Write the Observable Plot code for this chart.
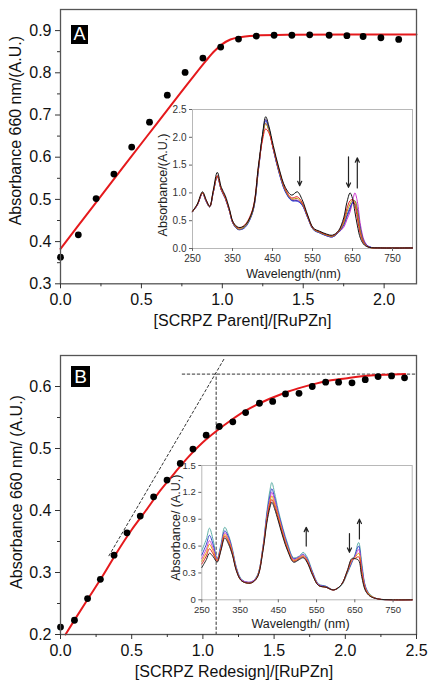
<!DOCTYPE html>
<html><head><meta charset="utf-8">
<script src="https://cdn.jsdelivr.net/npm/d3@7"></script>
<script src="https://cdn.jsdelivr.net/npm/@observablehq/plot@0.6"></script>
<style>
body{margin:0;background:#fff;}
#wrap{position:relative;width:436px;height:689px;overflow:hidden;}
.tag{position:absolute;background:#000;color:#fff;font-family:"Liberation Sans",Arial,sans-serif;text-align:center;}
</style></head><body><div id="wrap"></div><script>
// ---------- Panel A : main titration ----------
const xA = [0,0.11,0.22,0.33,0.44,0.55,0.66,0.77,0.88,0.99,1.10,1.21,1.32,1.43,1.54,1.66,1.77,1.87,1.98,2.09];
const yA = [0.363,0.416,0.502,0.560,0.624,0.683,0.747,0.801,0.835,0.861,0.880,0.887,0.889,0.889,0.890,0.889,0.888,0.886,0.883,0.879];
const fitAx = [0,0.2,0.4,0.6,0.8,0.9,0.95,1.0,1.05,1.1,1.2,1.4,1.8,2.2];
const fitAy = [0.383,0.483,0.583,0.682,0.781,0.829,0.851,0.868,0.879,0.884,0.888,0.890,0.891,0.891];
const xTicksA = [0,0.5,1,1.5,2];
const xMinorA = [0.25,0.75,1.25,1.75];
const yTicksA = [0.3,0.4,0.5,0.6,0.7,0.8,0.9];
const yMinorA = [0.35,0.45,0.55,0.65,0.75,0.85];
const xLabelA = "[SCRPZ Parent]/[RuPZn]";
const yLabelA = "Absorbance 660 nm/(A.U.)";

// ---------- Panel A : inset spectra ----------
const wlA = [250,262,275,284,293,302,312,322,332,342,352,365,380,400,415,425,433,441,452,466,482,498,512,524,538,552,568,585,600,615,628,636,644,650,656,662,670,680,692,720,800];
const specA1 = [0.67,0.80,1.02,0.88,0.76,1.05,1.37,1.10,0.95,0.72,0.47,0.38,0.41,0.68,1.50,2.05,2.37,2.20,1.85,1.45,1.10,0.96,1.02,0.88,0.60,0.37,0.31,0.26,0.24,0.32,0.55,0.83,1.00,0.90,0.66,0.42,0.18,0.06,0.02,0.01,0.01];
const specA2 = [0.67,0.79,1.00,0.87,0.76,1.03,1.31,1.07,0.92,0.70,0.46,0.37,0.42,0.70,1.48,1.95,2.15,2.08,1.80,1.42,1.07,0.91,0.93,0.83,0.58,0.36,0.30,0.25,0.23,0.31,0.50,0.72,0.86,0.88,0.78,0.55,0.25,0.08,0.02,0.01,0.01];
const specA3 = [0.66,0.79,1.00,0.86,0.75,1.02,1.30,1.06,0.91,0.69,0.45,0.35,0.39,0.66,1.45,2.00,2.25,2.12,1.80,1.40,1.05,0.89,0.90,0.81,0.57,0.35,0.29,0.24,0.22,0.30,0.46,0.66,0.80,0.87,0.85,0.65,0.30,0.09,0.02,0.01,0.01];
const specA4 = [0.66,0.78,0.99,0.85,0.75,1.01,1.29,1.05,0.90,0.68,0.44,0.34,0.37,0.64,1.42,2.02,2.30,2.15,1.78,1.37,1.02,0.86,0.85,0.78,0.55,0.34,0.28,0.23,0.21,0.29,0.43,0.60,0.74,0.82,0.80,0.64,0.32,0.10,0.03,0.01,0.01];
const specA5 = [0.66,0.78,0.99,0.85,0.75,1.01,1.30,1.05,0.90,0.68,0.44,0.34,0.38,0.65,1.43,2.03,2.32,2.16,1.79,1.38,1.03,0.87,0.86,0.79,0.56,0.34,0.28,0.23,0.21,0.29,0.42,0.57,0.71,0.83,0.86,0.72,0.36,0.11,0.03,0.01,0.01];
const specA6 = [0.66,0.78,0.99,0.85,0.75,1.01,1.30,1.05,0.90,0.68,0.44,0.35,0.39,0.66,1.44,2.00,2.25,2.12,1.79,1.39,1.04,0.88,0.87,0.80,0.56,0.35,0.29,0.23,0.21,0.29,0.38,0.52,0.66,0.84,1.00,0.85,0.42,0.13,0.03,0.01,0.01];
const spectraA = [specA6, specA5, specA4, specA3, specA2, specA1];
const colorsA = ["#cc33cc","#5a3a9a","#2a3ad8","#b0a000","#e82020","#111111"];
const arrowAx = [518,640,662];
const arrowAy1 = [1.65,1.65,1.09];
const arrowAy2 = [1.13,1.10,1.63];
const insetXTicks = [250,350,450,550,650,750];
const insetYTicksA = [0,0.5,1,1.5,2,2.5];
const insetXLabelA = "Wavelength/(nm)";
const insetYLabelA = "Absorbance/(A.U.)";

// ---------- Panel B : main titration ----------
const xB = [0,0.098,0.19,0.28,0.376,0.467,0.56,0.654,0.748,0.841,0.93,1.023,1.115,1.21,1.30,1.397,1.49,1.58,1.675,1.768,1.862,1.953,2.047,2.14,2.23,2.325,2.416];
const yB = [0.212,0.223,0.258,0.289,0.328,0.364,0.391,0.422,0.449,0.476,0.499,0.5215,0.5355,0.543,0.558,0.573,0.576,0.588,0.589,0.600,0.607,0.607,0.606,0.611,0.616,0.617,0.614];
const fitBx = [0.035,0.1,0.2,0.3,0.4,0.5,0.6,0.7,0.8,0.9,1.0,1.1,1.2,1.3,1.4,1.5,1.6,1.7,1.8,1.9,2.0,2.1,2.2,2.3,2.42];
const fitBy = [0.2,0.224,0.26,0.296,0.334,0.369,0.400,0.432,0.460,0.487,0.510,0.529,0.546,0.561,0.573,0.583,0.592,0.599,0.605,0.610,0.613,0.616,0.618,0.619,0.620];
const tangentX = [0.34,1.15];
const tangentY = [0.327,0.645];
const plateauX = [0.855,2.5];
const plateauY = [0.62,0.62];
const equivX = [1.093,1.093];
const equivY = [0.2,0.62];
const xTicksB = [0,0.5,1,1.5,2,2.5];
const xMinorB = [0.25,0.75,1.25,1.75,2.25];
const yTicksB = [0.2,0.3,0.4,0.5,0.6];
const yMinorB = [0.25,0.35,0.45,0.55];
const xLabelB = "[SCRPZ Redesign]/[RuPZn]";
const yLabelB = "Absorbance 660 nm/ (A.U.)";

// ---------- Panel B : inset spectra ----------
const wlB = [250,262,270,280,290,300,310,320,330,340,352,365,380,395,410,420,428,433,440,450,462,475,490,505,515,525,540,555,575,595,615,630,642,650,660,668,678,690,710,750,800];
const specB1 = [0.36,0.45,0.52,0.48,0.42,0.55,0.69,0.62,0.50,0.33,0.22,0.19,0.19,0.25,0.55,0.86,1.03,1.09,1.02,0.88,0.70,0.54,0.42,0.45,0.47,0.42,0.27,0.16,0.14,0.11,0.17,0.32,0.46,0.46,0.44,0.26,0.10,0.04,0.01,0,0];
const specB2 = [0.40,0.49,0.57,0.51,0.43,0.56,0.71,0.64,0.51,0.33,0.22,0.19,0.19,0.25,0.56,0.88,1.06,1.12,1.05,0.90,0.72,0.55,0.43,0.46,0.48,0.43,0.28,0.16,0.14,0.11,0.17,0.32,0.45,0.46,0.48,0.29,0.11,0.04,0.01,0,0];
const specB3 = [0.43,0.53,0.62,0.54,0.44,0.57,0.73,0.66,0.53,0.34,0.22,0.19,0.19,0.26,0.57,0.90,1.09,1.16,1.08,0.93,0.74,0.57,0.44,0.47,0.49,0.44,0.28,0.16,0.14,0.11,0.17,0.31,0.44,0.47,0.52,0.32,0.12,0.05,0.01,0,0];
const specB4 = [0.46,0.57,0.66,0.57,0.45,0.58,0.75,0.68,0.54,0.35,0.23,0.20,0.20,0.26,0.58,0.92,1.12,1.20,1.12,0.95,0.76,0.58,0.45,0.48,0.50,0.45,0.29,0.17,0.14,0.11,0.17,0.31,0.43,0.48,0.56,0.35,0.13,0.05,0.01,0,0];
const specB5 = [0.50,0.62,0.72,0.61,0.45,0.60,0.77,0.70,0.55,0.36,0.23,0.20,0.20,0.27,0.59,0.95,1.16,1.24,1.15,0.97,0.78,0.60,0.46,0.48,0.51,0.46,0.30,0.17,0.15,0.11,0.17,0.30,0.42,0.49,0.60,0.38,0.14,0.05,0.01,0,0];
const specB6 = [0.55,0.68,0.80,0.66,0.46,0.62,0.81,0.72,0.57,0.37,0.24,0.20,0.20,0.27,0.60,0.98,1.22,1.31,1.20,1.00,0.80,0.62,0.47,0.49,0.53,0.48,0.31,0.18,0.15,0.11,0.16,0.29,0.41,0.50,0.64,0.42,0.15,0.06,0.01,0,0];
const spectraB = [specB6, specB5, specB4, specB3, specB2, specB1];
const colorsB = ["#5fb0a8","#3344cc","#cc44cc","#ee9900","#dd2222","#222222"];
const arrowBx = [523,636,662];
const arrowBy1 = [0.60,0.74,0.68];
const arrowBy2 = [0.81,0.53,0.90];
const insetYTicksB = [0,0.3,0.6,0.9,1.2,1.5];
const insetXLabelB = "Wavelength/ (nm)";
const insetYLabelB = "Absorbance/ (A.U.)";

// ---------- drawing ----------
const FONT = "'Liberation Sans', Arial, Helvetica, sans-serif";
const wrap = document.getElementById("wrap");
const f1 = d3.format(".1f");
function place(svg, left, top) {
  svg.style.position = "absolute";
  svg.style.left = left + "px";
  svg.style.top = top + "px";
  wrap.appendChild(svg);
}
function idx(a) { return d3.range(a.length); }
const mid = {textAnchor: "middle", lineAnchor: "middle"};

function mainPlot(o) {
  return Plot.plot({
    width: 436, height: o.height,
    marginLeft: 60, marginRight: 20, marginTop: o.mt, marginBottom: o.mb,
    style: {background: "transparent", fontFamily: FONT, color: "#111", overflow: "visible"},
    x: {domain: o.xd, label: null},
    y: {domain: o.yd, label: null},
    marks: [
      ...(o.extra || []),
      Plot.line(idx(o.fx), {x: o.fx, y: o.fy, stroke: "#e5191c", strokeWidth: 2, curve: "monotone-x"}),
      Plot.dot(idx(o.px), {x: o.px, y: o.py, r: 3.4, fill: "#000", stroke: "none"}),
      Plot.frame({stroke: "#555", strokeWidth: 1.3}),
      Plot.axisX({ticks: o.xt, tickSize: 5, tickPadding: 5, tickFormat: f1, fontSize: 16, label: null, stroke: "#333"}),
      Plot.axisX({ticks: o.xm, tickSize: 3, tickFormat: () => "", label: null, stroke: "#333"}),
      Plot.axisY({ticks: o.yt, tickSize: 5, tickPadding: 4, tickFormat: f1, fontSize: 16, label: null, stroke: "#333"}),
      Plot.axisY({ticks: o.ym, tickSize: 3, tickFormat: () => "", label: null, stroke: "#333"}),
      Plot.text([o.xl], {frameAnchor: "bottom", ...mid, text: d => d, dy: 37, dx: o.xldx, fontSize: 16, fill: "#111"}),
      Plot.text([o.yl], {frameAnchor: "left", ...mid, text: d => d, rotate: -90, dx: o.yldx, dy: o.yldy, fontSize: 16, fill: "#111"})
    ]
  });
}

function insetPlot(o) {
  const lines = o.spectra.map((s, k) =>
    Plot.line(idx(o.wl), {x: o.wl, y: s, stroke: o.colors[k], strokeWidth: 1, curve: "catmull-rom"}));
  return Plot.plot({
    width: o.w, height: o.h,
    marginLeft: o.ml, marginRight: o.mr, marginTop: o.mt, marginBottom: o.mb,
    style: {background: "transparent", fontFamily: FONT, color: "#333", overflow: "visible"},
    x: {domain: [250, 800], label: null},
    y: {domain: o.yd, label: null},
    marks: [
      Plot.frame({stroke: "#b8b8b8", strokeWidth: 1}),
      ...lines,
      Plot.arrow(idx(o.ax), {x1: o.ax, y1: o.ay1, x2: o.ax, y2: o.ay2, stroke: "#222", strokeWidth: 1.2, headLength: 6, headAngle: 50}),
      Plot.axisX({ticks: insetXTicks, tickSize: 3, tickPadding: 3, fontSize: o.fs, label: null, stroke: "#666"}),
      Plot.axisY({ticks: o.yt, tickSize: 3, tickPadding: 3, tickFormat: o.yf, fontSize: o.fs, label: null, stroke: "#666"}),
      Plot.text([o.xl], {frameAnchor: "bottom", ...mid, text: d => d, dy: o.xldy, dx: o.xldx, fontSize: 12.5, fill: "#222"}),
      Plot.text([o.yl], {frameAnchor: "left", ...mid, text: d => d, rotate: -90, dx: o.yldx, dy: o.yldy, fontSize: 12.5, fill: "#222"})
    ]
  });
}

const dash = {stroke: "#333", strokeWidth: 1, strokeDasharray: "2.5,2.5"};

place(mainPlot({
  height: 330, mt: 9, mb: 46.7, xd: [0, 2.2], yd: [0.3, 0.95],
  fx: fitAx, fy: fitAy, px: xA, py: yA,
  xt: xTicksA, xm: xMinorA, yt: yTicksA, ym: yMinorA,
  xl: xLabelA, xldx: 4, yl: yLabelA, yldx: -45, yldy: -16
}), 0, 0);

place(mainPlot({
  height: 359, mt: 25, mb: 55, xd: [0, 2.5], yd: [0.2, 0.65],
  fx: fitBx, fy: fitBy, px: xB, py: yB,
  xt: xTicksB, xm: xMinorB, yt: yTicksB, ym: yMinorB,
  xl: xLabelB, xldx: -4.5, yl: yLabelB, yldx: -43.5, yldy: -3,
  extra: [
    Plot.line(idx(tangentX), {x: tangentX, y: tangentY, ...dash}),
    Plot.line(idx(plateauX), {x: plateauX, y: plateauY, ...dash}),
    Plot.line(idx(equivX), {x: equivX, y: equivY, ...dash})
  ]
}), 0, 330);

place(insetPlot({
  w: 270, h: 185, ml: 42, mr: 8, mt: 9, mb: 37,
  yd: [0, 2.5], yt: insetYTicksA, yf: f1, fs: 10,
  wl: wlA, spectra: spectraA, colors: colorsA,
  ax: arrowAx, ay1: arrowAy1, ay2: arrowAy2,
  xl: insetXLabelA, xldy: 25, xldx: -9, yl: insetYLabelA, yldx: -29.5, yldy: 6
}), 150, 100);

place(insetPlot({
  w: 260, h: 180, ml: 41.3, mr: 8.3, mt: 10, mb: 35.7,
  yd: [0, 1.5], yt: insetYTicksB, yf: d => d === 0 ? "0" : f1(d), fs: 9.5,
  wl: wlB, spectra: spectraB, colors: colorsB,
  ax: arrowBx, ay1: arrowBy1, ay2: arrowBy2,
  xl: insetXLabelB, xldy: 23.7, xldx: -6.5, yl: insetYLabelB, yldx: -25.6, yldy: -5
}), 160, 455);

// panel tags
function tag(letter, left, top, w, h, fs) {
  const d = document.createElement("div");
  d.className = "tag";
  d.textContent = letter;
  Object.assign(d.style, {left: left + "px", top: top + "px", width: w + "px", height: h + "px", fontSize: fs + "px", lineHeight: h + "px"});
  wrap.appendChild(d);
}
tag("A", 71, 25, 17, 19, 18);
tag("B", 71, 366, 19, 21, 19);
</script></body></html>
